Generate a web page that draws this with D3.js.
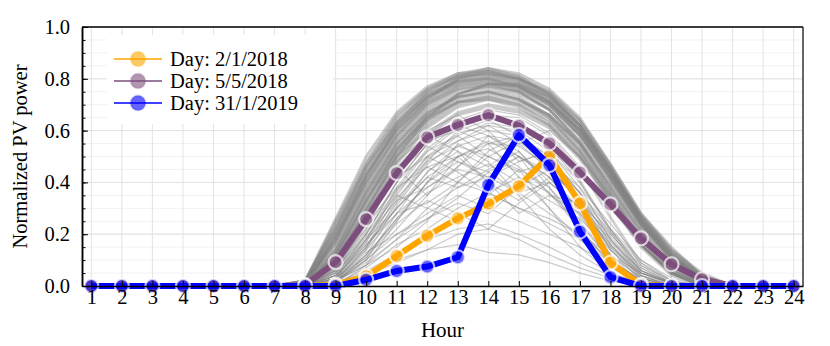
<!DOCTYPE html>
<html>
<head>
<meta charset="utf-8">
<script src="https://cdn.jsdelivr.net/npm/d3@7"></script>
<style>
  body { margin: 0; background: #fff; }
  svg { display: block; font-family: "Liberation Serif", serif; }
  .tick text { font-size: 20.5px; fill: #000; }
</style>
</head>
<body>
<svg id="chart" width="830" height="346"></svg>
<script>
// hours on the x axis
const hours = [1,2,3,4,5,6,7,8,9,10,11,12,13,14,15,16,17,18,19,20,21,22,23,24]
const yTicks = [0.0, 0.2, 0.4, 0.6, 0.8, 1.0]

// highlighted days
const day_2_1_2018  = [0,0,0,0,0,0,0,0,0.005,0.038,0.116,0.194,0.261,0.317,0.386,0.503,0.319,0.09,0.004,0,0,0,0,0]
const day_5_5_2018  = [0,0,0,0,0,0,0,0.003,0.092,0.258,0.436,0.574,0.622,0.660,0.619,0.551,0.439,0.315,0.184,0.084,0.026,0,0,0]
const day_31_1_2019 = [0,0,0,0,0,0,0,0,0,0.024,0.058,0.075,0.111,0.390,0.583,0.467,0.210,0.034,0,0,0,0,0,0]

// background days, values for hours 8..21 (zero outside)
const grayHours = [8,9,10,11,12,13,14,15,16,17,18,19,20,21]
const summerDays = [
  [0.02,0.22,0.45,0.63,0.75,0.81,0.84,0.82,0.76,0.65,0.47,0.28,0.14,0.04],
  [0.01,0.20,0.43,0.62,0.74,0.80,0.83,0.80,0.74,0.63,0.45,0.27,0.13,0.03],
  [0.02,0.24,0.47,0.65,0.76,0.82,0.83,0.81,0.75,0.64,0.46,0.26,0.12,0.03],
  [0.01,0.18,0.41,0.60,0.72,0.79,0.81,0.79,0.73,0.61,0.44,0.25,0.12,0.03],
  [0.01,0.17,0.40,0.58,0.71,0.78,0.80,0.78,0.72,0.60,0.43,0.25,0.11,0.03],
  [0.02,0.21,0.44,0.62,0.73,0.79,0.81,0.78,0.71,0.59,0.42,0.24,0.11,0.02],
  [0.01,0.19,0.42,0.61,0.73,0.78,0.80,0.77,0.71,0.60,0.44,0.26,0.13,0.04],
  [0.02,0.26,0.50,0.67,0.77,0.82,0.84,0.81,0.74,0.62,0.44,0.25,0.11,0.03],
  [0.01,0.16,0.38,0.57,0.70,0.77,0.79,0.77,0.71,0.60,0.43,0.24,0.11,0.03],
  [0.01,0.20,0.43,0.60,0.71,0.77,0.79,0.76,0.70,0.58,0.42,0.24,0.11,0.02],
  [0.02,0.23,0.46,0.63,0.74,0.79,0.80,0.77,0.70,0.58,0.41,0.23,0.10,0.02],
  [0.01,0.15,0.37,0.56,0.69,0.76,0.78,0.76,0.70,0.59,0.42,0.24,0.10,0.02],
  [0.02,0.25,0.48,0.66,0.76,0.81,0.82,0.79,0.72,0.61,0.45,0.27,0.14,0.05],
  [0.01,0.19,0.40,0.59,0.72,0.80,0.82,0.80,0.75,0.64,0.47,0.28,0.15,0.04],
  [0.01,0.18,0.42,0.61,0.73,0.80,0.82,0.80,0.74,0.62,0.45,0.26,0.12,0.03],
  [0.02,0.22,0.46,0.64,0.75,0.81,0.83,0.80,0.73,0.62,0.46,0.27,0.13,0.04],
  [0.01,0.14,0.36,0.55,0.68,0.75,0.77,0.75,0.69,0.58,0.41,0.23,0.10,0.02],
  [0.01,0.17,0.39,0.58,0.70,0.76,0.78,0.75,0.68,0.56,0.40,0.22,0.09,0.02]
]
const springDays = [
  [0.00,0.12,0.33,0.52,0.65,0.73,0.76,0.74,0.68,0.56,0.38,0.20,0.07,0.01],
  [0.00,0.10,0.30,0.50,0.64,0.72,0.75,0.73,0.66,0.54,0.36,0.18,0.06,0.01],
  [0.00,0.13,0.35,0.54,0.67,0.74,0.77,0.75,0.68,0.55,0.37,0.19,0.07,0.00],
  [0.00,0.09,0.28,0.48,0.62,0.70,0.73,0.71,0.65,0.53,0.36,0.18,0.06,0.00],
  [0.00,0.11,0.31,0.51,0.64,0.71,0.73,0.70,0.63,0.51,0.34,0.16,0.05,0.00],
  [0.00,0.08,0.27,0.47,0.61,0.69,0.72,0.70,0.64,0.52,0.35,0.17,0.05,0.00],
  [0.00,0.14,0.36,0.55,0.67,0.73,0.75,0.72,0.65,0.52,0.34,0.16,0.05,0.00],
  [0.00,0.07,0.25,0.45,0.59,0.67,0.70,0.68,0.62,0.50,0.33,0.16,0.05,0.00],
  [0.00,0.10,0.29,0.49,0.63,0.71,0.74,0.72,0.66,0.55,0.38,0.21,0.08,0.01],
  [0.00,0.06,0.24,0.44,0.58,0.66,0.69,0.67,0.61,0.49,0.32,0.15,0.04,0.00],
  [0.00,0.12,0.32,0.52,0.66,0.74,0.78,0.77,0.71,0.60,0.43,0.25,0.11,0.02],
  [0.00,0.09,0.29,0.50,0.65,0.74,0.78,0.78,0.73,0.62,0.45,0.26,0.12,0.03],
  [0.00,0.11,0.33,0.53,0.66,0.73,0.75,0.72,0.66,0.55,0.39,0.21,0.08,0.01],
  [0.00,0.13,0.34,0.53,0.65,0.71,0.72,0.69,0.62,0.50,0.33,0.16,0.05,0.00]
]
const winterDays = [
  [0.00,0.02,0.15,0.35,0.50,0.59,0.62,0.60,0.52,0.38,0.18,0.04,0.00,0.00],
  [0.00,0.01,0.12,0.31,0.47,0.56,0.60,0.58,0.50,0.36,0.16,0.03,0.00,0.00],
  [0.00,0.03,0.18,0.38,0.53,0.62,0.65,0.63,0.55,0.41,0.22,0.06,0.00,0.00],
  [0.00,0.01,0.10,0.28,0.44,0.54,0.58,0.56,0.48,0.34,0.14,0.02,0.00,0.00],
  [0.00,0.02,0.14,0.33,0.49,0.58,0.63,0.61,0.54,0.40,0.21,0.05,0.00,0.00],
  [0.00,0.00,0.08,0.25,0.40,0.50,0.55,0.54,0.46,0.32,0.12,0.01,0.00,0.00],
  [0.00,0.04,0.20,0.40,0.55,0.64,0.68,0.66,0.59,0.46,0.27,0.09,0.01,0.00],
  [0.00,0.03,0.17,0.37,0.52,0.61,0.66,0.65,0.58,0.45,0.26,0.08,0.01,0.00]
]
const cloudyDays = [
  [0.00,0.05,0.18,0.30,0.42,0.38,0.45,0.52,0.40,0.30,0.18,0.06,0.01,0.00],
  [0.00,0.08,0.22,0.45,0.35,0.50,0.40,0.33,0.42,0.28,0.12,0.03,0.00,0.00],
  [0.00,0.02,0.10,0.20,0.28,0.35,0.30,0.25,0.20,0.15,0.08,0.02,0.00,0.00],
  [0.00,0.03,0.12,0.25,0.40,0.55,0.48,0.35,0.22,0.12,0.05,0.01,0.00,0.00],
  [0.00,0.01,0.06,0.12,0.18,0.22,0.24,0.20,0.15,0.09,0.04,0.01,0.00,0.00],
  [0.01,0.10,0.30,0.48,0.58,0.52,0.46,0.55,0.60,0.50,0.35,0.18,0.06,0.01],
  [0.00,0.04,0.15,0.32,0.48,0.60,0.55,0.42,0.30,0.18,0.07,0.01,0.00,0.00],
  [0.00,0.02,0.08,0.15,0.25,0.40,0.50,0.45,0.30,0.15,0.05,0.01,0.00,0.00],
  [0.00,0.06,0.20,0.35,0.30,0.25,0.35,0.45,0.38,0.25,0.10,0.02,0.00,0.00],
  [0.00,0.03,0.14,0.28,0.38,0.45,0.42,0.48,0.52,0.40,0.22,0.07,0.01,0.00],
  [0.00,0.01,0.05,0.10,0.14,0.16,0.13,0.12,0.09,0.05,0.02,0.00,0.00,0.00],
  [0.00,0.05,0.20,0.40,0.55,0.62,0.58,0.50,0.35,0.28,0.15,0.05,0.01,0.00],
  [0.00,0.02,0.10,0.22,0.35,0.46,0.55,0.58,0.48,0.32,0.14,0.03,0.00,0.00],
  [0.00,0.07,0.25,0.42,0.50,0.44,0.36,0.30,0.26,0.20,0.12,0.05,0.01,0.00],
  [0.00,0.02,0.09,0.18,0.30,0.38,0.42,0.36,0.28,0.20,0.10,0.02,0.00,0.00],
  [0.00,0.03,0.11,0.24,0.33,0.28,0.22,0.32,0.40,0.30,0.15,0.04,0.00,0.00],
  [0.01,0.12,0.33,0.50,0.60,0.66,0.60,0.48,0.52,0.44,0.30,0.16,0.05,0.01],
  [0.00,0.04,0.16,0.30,0.44,0.52,0.40,0.28,0.35,0.32,0.20,0.08,0.02,0.00],
  [0.00,0.01,0.07,0.16,0.22,0.30,0.36,0.42,0.36,0.22,0.08,0.01,0.00,0.00],
  [0.00,0.02,0.12,0.26,0.36,0.42,0.47,0.40,0.33,0.26,0.14,0.04,0.00,0.00],
  [0.00,0.05,0.17,0.34,0.46,0.50,0.56,0.50,0.42,0.30,0.16,0.05,0.01,0.00],
  [0.00,0.01,0.04,0.09,0.14,0.20,0.22,0.18,0.12,0.07,0.03,0.00,0.00,0.00],
  [0.00,0.09,0.28,0.46,0.56,0.60,0.64,0.58,0.47,0.36,0.22,0.10,0.03,0.00],
  [0.00,0.03,0.13,0.20,0.26,0.32,0.28,0.38,0.45,0.34,0.18,0.05,0.01,0.00],
  [0.00,0.06,0.22,0.40,0.52,0.58,0.50,0.44,0.48,0.38,0.24,0.10,0.02,0.00],
  [0.00,0.04,0.18,0.36,0.50,0.56,0.62,0.55,0.45,0.33,0.19,0.06,0.01,0.00],
  [0.00,0.03,0.15,0.30,0.42,0.50,0.53,0.46,0.36,0.24,0.10,0.02,0.00,0.00],
  [0.00,0.07,0.24,0.38,0.46,0.40,0.52,0.58,0.50,0.36,0.20,0.07,0.01,0.00],
  [0.00,0.02,0.11,0.26,0.40,0.48,0.44,0.36,0.40,0.30,0.16,0.04,0.00,0.00],
  [0.00,0.05,0.19,0.33,0.38,0.46,0.58,0.52,0.38,0.22,0.09,0.02,0.00,0.00],
  [0.00,0.08,0.26,0.44,0.54,0.48,0.42,0.50,0.44,0.34,0.21,0.09,0.02,0.00],
  [0.00,0.02,0.08,0.18,0.26,0.34,0.44,0.50,0.42,0.27,0.12,0.03,0.00,0.00],
  [0.00,0.04,0.16,0.28,0.32,0.40,0.36,0.30,0.24,0.18,0.09,0.03,0.00,0.00],
  [0.00,0.06,0.21,0.37,0.48,0.54,0.50,0.56,0.46,0.32,0.17,0.06,0.01,0.00]
]

const highlighted = [
  {name: "Day: 2/1/2018",  values: day_2_1_2018,  color: "#ffa500"},
  {name: "Day: 5/5/2018",  values: day_5_5_2018,  color: "#7d4e7d"},
  {name: "Day: 31/1/2019", values: day_31_1_2019, color: "#0000ff"}
]

const svg = d3.select("#chart")
const plotLeft = 82, plotRight = 803, plotTop = 27, plotBottom = 286

const x = d3.scaleLinear().domain([0.695, 24.305]).range([plotLeft, plotRight])
const y = d3.scaleLinear().domain([0, 1]).range([plotBottom, plotTop])

// grid
const grid = svg.append("g")
grid.selectAll("line.minor").data(d3.range(0, 1.0001, 0.05))
  .join("line").attr("class", "minor")
    .attr("x1", plotLeft).attr("x2", plotRight)
    .attr("y1", d => y(d)).attr("y2", d => y(d))
    .attr("stroke", "#f2f2f2").attr("stroke-width", 1)
grid.selectAll("line.hy").data(yTicks)
  .join("line").attr("class", "hy")
    .attr("x1", plotLeft).attr("x2", plotRight)
    .attr("y1", d => y(d)).attr("y2", d => y(d))
    .attr("stroke", "#e3e3e3").attr("stroke-width", 1)
grid.selectAll("line.vx").data(hours)
  .join("line").attr("class", "vx")
    .attr("x1", d => x(d)).attr("x2", d => x(d))
    .attr("y1", plotTop).attr("y2", plotBottom)
    .attr("stroke", "#e3e3e3").attr("stroke-width", 1)

// gray background days
const pad = vals => hours.map(h => {
  const i = grayHours.indexOf(h)
  return i < 0 ? 0 : vals[i]
})
const line = d3.line().x((d, i) => x(hours[i])).y(d => y(d))
const sunny = [...summerDays, ...springDays].map(pad)
const other = [...winterDays, ...cloudyDays].map(pad)
svg.append("g").selectAll("path").data(other)
  .join("path")
    .attr("d", line)
    .attr("fill", "none")
    .attr("stroke", "#808080")
    .attr("stroke-opacity", 0.4)
    .attr("stroke-width", 1.2)
svg.append("g").selectAll("path").data(sunny)
  .join("path")
    .attr("d", line)
    .attr("fill", "none")
    .attr("stroke", "#808080")
    .attr("stroke-opacity", 0.42)
    .attr("stroke-width", 2.6)

// highlighted days: line + markers per series
highlighted.forEach(s => {
  const g = svg.append("g")
  g.append("path")
    .attr("d", line(s.values))
    .attr("fill", "none")
    .attr("stroke", s.color)
    .attr("stroke-width", 6)
    .attr("stroke-linejoin", "round")
  g.selectAll("circle").data(s.values)
    .join("circle")
      .attr("cx", (d, i) => x(hours[i]))
      .attr("cy", d => y(d))
      .attr("r", 7)
      .attr("fill", s.color)
      .attr("fill-opacity", 0.6)
      .attr("stroke", "#ffffff")
      .attr("stroke-opacity", 0.7)
      .attr("stroke-width", 2.2)
})

// frame
svg.append("line").attr("x1", plotLeft).attr("x2", plotRight).attr("y1", plotTop).attr("y2", plotTop)
  .attr("stroke", "#000").attr("stroke-width", 1.5)
svg.append("line").attr("x1", plotRight).attr("x2", plotRight).attr("y1", plotTop).attr("y2", plotBottom)
  .attr("stroke", "#333").attr("stroke-width", 1.5)

// axes
svg.append("g").attr("transform", `translate(0,${plotBottom})`)
  .call(d3.axisBottom(x).tickValues(hours).tickSizeInner(-5).tickSizeOuter(0).tickPadding(3))
svg.append("g").attr("transform", `translate(${plotLeft},0)`)
  .call(d3.axisLeft(y).tickValues(d3.range(0, 1.0001, 0.05)).tickSizeInner(-3.5).tickSizeOuter(0).tickFormat(""))
svg.append("g").attr("transform", `translate(${plotLeft},0)`)
  .call(d3.axisLeft(y).tickValues(yTicks).tickSizeInner(-6).tickSizeOuter(0).tickPadding(12).tickFormat(d3.format(".1f")))
svg.selectAll(".domain").attr("stroke", "#000").attr("stroke-width", 1.5)
svg.selectAll(".tick line").attr("stroke", "#000").attr("stroke-width", 1)
svg.selectAll(".tick text").attr("font-family", "Liberation Serif")

svg.append("text")
  .attr("x", (plotLeft + plotRight) / 2).attr("y", 337)
  .attr("text-anchor", "middle")
  .attr("font-size", 21)
  .text("Hour")
svg.append("text")
  .attr("transform", `translate(27,${(plotTop + plotBottom) / 2}) rotate(-90)`)
  .attr("text-anchor", "middle")
  .attr("font-size", 20.5)
  .text("Normalized PV power")

// legend
const legend = svg.append("g")
legend.append("rect")
  .attr("x", 107).attr("y", 35).attr("width", 226).attr("height", 89)
  .attr("fill", "#fff")
const rows = legend.selectAll("g.row").data(highlighted)
  .join("g").attr("class", "row")
    .attr("transform", (d, i) => `translate(0,${59 + i * 22})`)
rows.append("line")
  .attr("x1", 114).attr("x2", 162)
  .attr("stroke", d => d.color).attr("stroke-width", 1.5)
rows.append("circle")
  .attr("cx", 138).attr("r", 7.5)
  .attr("fill", d => d.color).attr("fill-opacity", 0.6)
  .attr("stroke", d => d.color).attr("stroke-opacity", 0.15).attr("stroke-width", 2)
rows.append("text")
  .attr("x", 170).attr("y", 7)
  .attr("font-size", 20.5)
  .text(d => d.name)
</script>
</body>
</html>
